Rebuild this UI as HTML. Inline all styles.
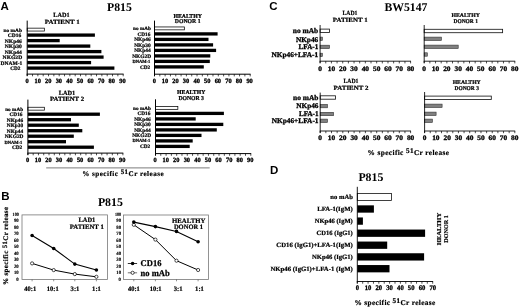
<!DOCTYPE html>
<html><head><meta charset="utf-8"><title>Figure</title>
<style>
html,body{margin:0;padding:0;background:#fff;}
svg{display:block;filter:blur(0.35px);}
text.s{font-family:"Liberation Serif",serif;font-weight:bold;fill:#000;text-rendering:geometricPrecision;}
text.a{font-family:"Liberation Sans",sans-serif;font-weight:bold;fill:#000;}
</style></head><body>
<svg width="520" height="307" viewBox="0 0 520 307">
<rect x="0" y="0" width="520" height="307" fill="#fff"/>
<text class="a" x="0.50" y="10.00" font-size="11.5">A</text>
<text class="s" x="107.00" y="11.40" font-size="11.8" textLength="24.80" lengthAdjust="spacingAndGlyphs">P815</text>
<rect x="27.20" y="28.15" width="17.15" height="2.90" fill="#fff" stroke="#000" stroke-width="0.75"/>
<rect x="27.20" y="33.45" width="67.70" height="3.30" fill="#000"/>
<rect x="27.20" y="38.95" width="32.50" height="3.30" fill="#000"/>
<rect x="27.20" y="44.45" width="63.10" height="3.30" fill="#000"/>
<rect x="27.20" y="49.95" width="74.20" height="3.30" fill="#000"/>
<rect x="27.20" y="55.45" width="76.40" height="3.30" fill="#000"/>
<rect x="27.20" y="60.95" width="63.90" height="3.30" fill="#000"/>
<rect x="27.20" y="66.45" width="87.20" height="3.30" fill="#000"/>
<line x1="27.20" y1="20.60" x2="27.20" y2="76.00" stroke="#000" stroke-width="1.0"/>
<line x1="26.70" y1="74.10" x2="123.60" y2="74.10" stroke="#000" stroke-width="1.0"/>
<line x1="27.20" y1="74.10" x2="27.20" y2="76.30" stroke="#000" stroke-width="0.7"/>
<line x1="32.53" y1="74.10" x2="32.53" y2="76.30" stroke="#000" stroke-width="0.7"/>
<line x1="37.87" y1="74.10" x2="37.87" y2="76.30" stroke="#000" stroke-width="0.7"/>
<line x1="43.20" y1="74.10" x2="43.20" y2="76.30" stroke="#000" stroke-width="0.7"/>
<line x1="48.53" y1="74.10" x2="48.53" y2="76.30" stroke="#000" stroke-width="0.7"/>
<line x1="53.87" y1="74.10" x2="53.87" y2="76.30" stroke="#000" stroke-width="0.7"/>
<line x1="59.20" y1="74.10" x2="59.20" y2="76.30" stroke="#000" stroke-width="0.7"/>
<line x1="64.53" y1="74.10" x2="64.53" y2="76.30" stroke="#000" stroke-width="0.7"/>
<line x1="69.87" y1="74.10" x2="69.87" y2="76.30" stroke="#000" stroke-width="0.7"/>
<line x1="75.20" y1="74.10" x2="75.20" y2="76.30" stroke="#000" stroke-width="0.7"/>
<line x1="80.53" y1="74.10" x2="80.53" y2="76.30" stroke="#000" stroke-width="0.7"/>
<line x1="85.87" y1="74.10" x2="85.87" y2="76.30" stroke="#000" stroke-width="0.7"/>
<line x1="91.20" y1="74.10" x2="91.20" y2="76.30" stroke="#000" stroke-width="0.7"/>
<line x1="96.53" y1="74.10" x2="96.53" y2="76.30" stroke="#000" stroke-width="0.7"/>
<line x1="101.87" y1="74.10" x2="101.87" y2="76.30" stroke="#000" stroke-width="0.7"/>
<line x1="107.20" y1="74.10" x2="107.20" y2="76.30" stroke="#000" stroke-width="0.7"/>
<line x1="112.53" y1="74.10" x2="112.53" y2="76.30" stroke="#000" stroke-width="0.7"/>
<line x1="117.87" y1="74.10" x2="117.87" y2="76.30" stroke="#000" stroke-width="0.7"/>
<line x1="123.20" y1="74.10" x2="123.20" y2="76.30" stroke="#000" stroke-width="0.7"/>
<text class="s" x="25.50" y="82.80" font-size="6.5" textLength="3.20" lengthAdjust="spacingAndGlyphs" stroke="#000" stroke-width="0.3">0</text>
<text class="s" x="34.49" y="82.80" font-size="6.5" textLength="6.40" lengthAdjust="spacingAndGlyphs" stroke="#000" stroke-width="0.3">10</text>
<text class="s" x="45.08" y="82.80" font-size="6.5" textLength="6.40" lengthAdjust="spacingAndGlyphs" stroke="#000" stroke-width="0.3">20</text>
<text class="s" x="55.67" y="82.80" font-size="6.5" textLength="6.40" lengthAdjust="spacingAndGlyphs" stroke="#000" stroke-width="0.3">30</text>
<text class="s" x="66.26" y="82.80" font-size="6.5" textLength="6.40" lengthAdjust="spacingAndGlyphs" stroke="#000" stroke-width="0.3">40</text>
<text class="s" x="76.84" y="82.80" font-size="6.5" textLength="6.40" lengthAdjust="spacingAndGlyphs" stroke="#000" stroke-width="0.3">50</text>
<text class="s" x="87.43" y="82.80" font-size="6.5" textLength="6.40" lengthAdjust="spacingAndGlyphs" stroke="#000" stroke-width="0.3">60</text>
<text class="s" x="98.02" y="82.80" font-size="6.5" textLength="6.40" lengthAdjust="spacingAndGlyphs" stroke="#000" stroke-width="0.3">70</text>
<text class="s" x="108.61" y="82.80" font-size="6.5" textLength="6.40" lengthAdjust="spacingAndGlyphs" stroke="#000" stroke-width="0.3">80</text>
<text class="s" x="119.20" y="82.80" font-size="6.5" textLength="6.40" lengthAdjust="spacingAndGlyphs" stroke="#000" stroke-width="0.3">90</text>
<text class="s" x="3.40" y="31.55" font-size="5.0" textLength="18.60" lengthAdjust="spacingAndGlyphs" stroke="#000" stroke-width="0.22">no mAb</text>
<text class="s" x="7.80" y="37.15" font-size="5.3" textLength="13.40" lengthAdjust="spacingAndGlyphs" stroke="#000" stroke-width="0.22">CD16</text>
<text class="s" x="4.80" y="42.65" font-size="5.3" textLength="17.00" lengthAdjust="spacingAndGlyphs" stroke="#000" stroke-width="0.22">NKp46</text>
<text class="s" x="4.80" y="48.15" font-size="5.3" textLength="17.00" lengthAdjust="spacingAndGlyphs" stroke="#000" stroke-width="0.22">NKp30</text>
<text class="s" x="4.80" y="53.65" font-size="5.3" textLength="17.00" lengthAdjust="spacingAndGlyphs" stroke="#000" stroke-width="0.22">NKp44</text>
<text class="s" x="2.60" y="59.15" font-size="5.3" textLength="19.60" lengthAdjust="spacingAndGlyphs" stroke="#000" stroke-width="0.22">NKG2D</text>
<text class="s" x="0.60" y="64.68" font-size="5.4" textLength="21.80" lengthAdjust="spacingAndGlyphs" stroke="#000" stroke-width="0.22">DNAM-1</text>
<text class="s" x="10.20" y="70.15" font-size="5.3" textLength="10.20" lengthAdjust="spacingAndGlyphs" stroke="#000" stroke-width="0.22">CD2</text>
<text class="s" x="53.30" y="16.70" font-size="6.4" textLength="16.40" lengthAdjust="spacingAndGlyphs" stroke="#000" stroke-width="0.22">LAD1</text>
<text class="s" x="44.70" y="23.90" font-size="6.4" textLength="35.00" lengthAdjust="spacingAndGlyphs" stroke="#000" stroke-width="0.22">PATIENT 1</text>
<rect x="154.50" y="26.95" width="29.85" height="2.90" fill="#fff" stroke="#000" stroke-width="0.75"/>
<rect x="154.50" y="32.25" width="63.10" height="3.30" fill="#000"/>
<rect x="154.50" y="37.75" width="54.00" height="3.30" fill="#000"/>
<rect x="154.50" y="43.25" width="58.60" height="3.30" fill="#000"/>
<rect x="154.50" y="48.75" width="61.60" height="3.30" fill="#000"/>
<rect x="154.50" y="54.25" width="55.80" height="3.30" fill="#000"/>
<rect x="154.50" y="59.75" width="55.30" height="3.30" fill="#000"/>
<rect x="154.50" y="65.25" width="49.30" height="3.30" fill="#000"/>
<line x1="154.50" y1="20.60" x2="154.50" y2="76.10" stroke="#000" stroke-width="1.0"/>
<line x1="154.00" y1="74.20" x2="250.60" y2="74.20" stroke="#000" stroke-width="1.0"/>
<line x1="154.50" y1="74.20" x2="154.50" y2="76.40" stroke="#000" stroke-width="0.7"/>
<line x1="159.82" y1="74.20" x2="159.82" y2="76.40" stroke="#000" stroke-width="0.7"/>
<line x1="165.13" y1="74.20" x2="165.13" y2="76.40" stroke="#000" stroke-width="0.7"/>
<line x1="170.45" y1="74.20" x2="170.45" y2="76.40" stroke="#000" stroke-width="0.7"/>
<line x1="175.77" y1="74.20" x2="175.77" y2="76.40" stroke="#000" stroke-width="0.7"/>
<line x1="181.08" y1="74.20" x2="181.08" y2="76.40" stroke="#000" stroke-width="0.7"/>
<line x1="186.40" y1="74.20" x2="186.40" y2="76.40" stroke="#000" stroke-width="0.7"/>
<line x1="191.72" y1="74.20" x2="191.72" y2="76.40" stroke="#000" stroke-width="0.7"/>
<line x1="197.03" y1="74.20" x2="197.03" y2="76.40" stroke="#000" stroke-width="0.7"/>
<line x1="202.35" y1="74.20" x2="202.35" y2="76.40" stroke="#000" stroke-width="0.7"/>
<line x1="207.67" y1="74.20" x2="207.67" y2="76.40" stroke="#000" stroke-width="0.7"/>
<line x1="212.98" y1="74.20" x2="212.98" y2="76.40" stroke="#000" stroke-width="0.7"/>
<line x1="218.30" y1="74.20" x2="218.30" y2="76.40" stroke="#000" stroke-width="0.7"/>
<line x1="223.62" y1="74.20" x2="223.62" y2="76.40" stroke="#000" stroke-width="0.7"/>
<line x1="228.93" y1="74.20" x2="228.93" y2="76.40" stroke="#000" stroke-width="0.7"/>
<line x1="234.25" y1="74.20" x2="234.25" y2="76.40" stroke="#000" stroke-width="0.7"/>
<line x1="239.57" y1="74.20" x2="239.57" y2="76.40" stroke="#000" stroke-width="0.7"/>
<line x1="244.88" y1="74.20" x2="244.88" y2="76.40" stroke="#000" stroke-width="0.7"/>
<line x1="250.20" y1="74.20" x2="250.20" y2="76.40" stroke="#000" stroke-width="0.7"/>
<text class="s" x="152.70" y="82.80" font-size="6.5" textLength="3.20" lengthAdjust="spacingAndGlyphs" stroke="#000" stroke-width="0.3">0</text>
<text class="s" x="161.69" y="82.80" font-size="6.5" textLength="6.40" lengthAdjust="spacingAndGlyphs" stroke="#000" stroke-width="0.3">10</text>
<text class="s" x="172.28" y="82.80" font-size="6.5" textLength="6.40" lengthAdjust="spacingAndGlyphs" stroke="#000" stroke-width="0.3">20</text>
<text class="s" x="182.87" y="82.80" font-size="6.5" textLength="6.40" lengthAdjust="spacingAndGlyphs" stroke="#000" stroke-width="0.3">30</text>
<text class="s" x="193.46" y="82.80" font-size="6.5" textLength="6.40" lengthAdjust="spacingAndGlyphs" stroke="#000" stroke-width="0.3">40</text>
<text class="s" x="204.04" y="82.80" font-size="6.5" textLength="6.40" lengthAdjust="spacingAndGlyphs" stroke="#000" stroke-width="0.3">50</text>
<text class="s" x="214.63" y="82.80" font-size="6.5" textLength="6.40" lengthAdjust="spacingAndGlyphs" stroke="#000" stroke-width="0.3">60</text>
<text class="s" x="225.22" y="82.80" font-size="6.5" textLength="6.40" lengthAdjust="spacingAndGlyphs" stroke="#000" stroke-width="0.3">70</text>
<text class="s" x="235.81" y="82.80" font-size="6.5" textLength="6.40" lengthAdjust="spacingAndGlyphs" stroke="#000" stroke-width="0.3">80</text>
<text class="s" x="246.40" y="82.80" font-size="6.5" textLength="6.40" lengthAdjust="spacingAndGlyphs" stroke="#000" stroke-width="0.3">90</text>
<text class="s" x="133.00" y="30.05" font-size="5.0" textLength="18.00" lengthAdjust="spacingAndGlyphs" stroke="#000" stroke-width="0.22">no mAb</text>
<text class="s" x="137.40" y="35.65" font-size="5.3" textLength="13.00" lengthAdjust="spacingAndGlyphs" stroke="#000" stroke-width="0.22">CD16</text>
<text class="s" x="134.20" y="41.15" font-size="5.3" textLength="16.60" lengthAdjust="spacingAndGlyphs" stroke="#000" stroke-width="0.22">NKp46</text>
<text class="s" x="134.20" y="46.65" font-size="5.3" textLength="16.60" lengthAdjust="spacingAndGlyphs" stroke="#000" stroke-width="0.22">NKp30</text>
<text class="s" x="134.20" y="52.15" font-size="5.3" textLength="16.60" lengthAdjust="spacingAndGlyphs" stroke="#000" stroke-width="0.22">NKp44</text>
<text class="s" x="132.20" y="57.65" font-size="5.3" textLength="19.00" lengthAdjust="spacingAndGlyphs" stroke="#000" stroke-width="0.22">NKG2D</text>
<text class="s" x="132.50" y="62.92" font-size="4.6" textLength="17.90" lengthAdjust="spacingAndGlyphs" stroke="#000" stroke-width="0.22">DNAM-1</text>
<text class="s" x="140.00" y="68.65" font-size="5.3" textLength="10.20" lengthAdjust="spacingAndGlyphs" stroke="#000" stroke-width="0.22">CD2</text>
<text class="s" x="173.40" y="17.60" font-size="6.0" textLength="28.60" lengthAdjust="spacingAndGlyphs" stroke="#000" stroke-width="0.22">HEALTHY</text>
<text class="s" x="174.80" y="23.40" font-size="6.0" textLength="25.80" lengthAdjust="spacingAndGlyphs" stroke="#000" stroke-width="0.22">DONOR 1</text>
<rect x="27.90" y="107.25" width="16.45" height="2.90" fill="#fff" stroke="#000" stroke-width="0.75"/>
<rect x="27.90" y="112.55" width="72.00" height="3.30" fill="#000"/>
<rect x="27.90" y="118.05" width="43.10" height="3.30" fill="#000"/>
<rect x="27.90" y="123.55" width="50.90" height="3.30" fill="#000"/>
<rect x="27.90" y="129.05" width="54.40" height="3.30" fill="#000"/>
<rect x="27.90" y="134.55" width="45.90" height="3.30" fill="#000"/>
<rect x="27.90" y="140.05" width="38.10" height="3.30" fill="#000"/>
<rect x="27.90" y="145.55" width="66.00" height="3.30" fill="#000"/>
<line x1="27.90" y1="99.60" x2="27.90" y2="155.00" stroke="#000" stroke-width="1.0"/>
<line x1="27.40" y1="153.10" x2="123.30" y2="153.10" stroke="#000" stroke-width="1.0"/>
<line x1="27.90" y1="153.10" x2="27.90" y2="155.30" stroke="#000" stroke-width="0.7"/>
<line x1="33.18" y1="153.10" x2="33.18" y2="155.30" stroke="#000" stroke-width="0.7"/>
<line x1="38.46" y1="153.10" x2="38.46" y2="155.30" stroke="#000" stroke-width="0.7"/>
<line x1="43.73" y1="153.10" x2="43.73" y2="155.30" stroke="#000" stroke-width="0.7"/>
<line x1="49.01" y1="153.10" x2="49.01" y2="155.30" stroke="#000" stroke-width="0.7"/>
<line x1="54.29" y1="153.10" x2="54.29" y2="155.30" stroke="#000" stroke-width="0.7"/>
<line x1="59.57" y1="153.10" x2="59.57" y2="155.30" stroke="#000" stroke-width="0.7"/>
<line x1="64.84" y1="153.10" x2="64.84" y2="155.30" stroke="#000" stroke-width="0.7"/>
<line x1="70.12" y1="153.10" x2="70.12" y2="155.30" stroke="#000" stroke-width="0.7"/>
<line x1="75.40" y1="153.10" x2="75.40" y2="155.30" stroke="#000" stroke-width="0.7"/>
<line x1="80.68" y1="153.10" x2="80.68" y2="155.30" stroke="#000" stroke-width="0.7"/>
<line x1="85.96" y1="153.10" x2="85.96" y2="155.30" stroke="#000" stroke-width="0.7"/>
<line x1="91.23" y1="153.10" x2="91.23" y2="155.30" stroke="#000" stroke-width="0.7"/>
<line x1="96.51" y1="153.10" x2="96.51" y2="155.30" stroke="#000" stroke-width="0.7"/>
<line x1="101.79" y1="153.10" x2="101.79" y2="155.30" stroke="#000" stroke-width="0.7"/>
<line x1="107.07" y1="153.10" x2="107.07" y2="155.30" stroke="#000" stroke-width="0.7"/>
<line x1="112.34" y1="153.10" x2="112.34" y2="155.30" stroke="#000" stroke-width="0.7"/>
<line x1="117.62" y1="153.10" x2="117.62" y2="155.30" stroke="#000" stroke-width="0.7"/>
<line x1="122.90" y1="153.10" x2="122.90" y2="155.30" stroke="#000" stroke-width="0.7"/>
<text class="s" x="25.90" y="161.50" font-size="6.5" textLength="3.20" lengthAdjust="spacingAndGlyphs" stroke="#000" stroke-width="0.3">0</text>
<text class="s" x="34.82" y="161.50" font-size="6.5" textLength="6.40" lengthAdjust="spacingAndGlyphs" stroke="#000" stroke-width="0.3">10</text>
<text class="s" x="45.34" y="161.50" font-size="6.5" textLength="6.40" lengthAdjust="spacingAndGlyphs" stroke="#000" stroke-width="0.3">20</text>
<text class="s" x="55.87" y="161.50" font-size="6.5" textLength="6.40" lengthAdjust="spacingAndGlyphs" stroke="#000" stroke-width="0.3">30</text>
<text class="s" x="66.39" y="161.50" font-size="6.5" textLength="6.40" lengthAdjust="spacingAndGlyphs" stroke="#000" stroke-width="0.3">40</text>
<text class="s" x="76.91" y="161.50" font-size="6.5" textLength="6.40" lengthAdjust="spacingAndGlyphs" stroke="#000" stroke-width="0.3">50</text>
<text class="s" x="87.43" y="161.50" font-size="6.5" textLength="6.40" lengthAdjust="spacingAndGlyphs" stroke="#000" stroke-width="0.3">60</text>
<text class="s" x="97.96" y="161.50" font-size="6.5" textLength="6.40" lengthAdjust="spacingAndGlyphs" stroke="#000" stroke-width="0.3">70</text>
<text class="s" x="108.48" y="161.50" font-size="6.5" textLength="6.40" lengthAdjust="spacingAndGlyphs" stroke="#000" stroke-width="0.3">80</text>
<text class="s" x="119.00" y="161.50" font-size="6.5" textLength="6.40" lengthAdjust="spacingAndGlyphs" stroke="#000" stroke-width="0.3">90</text>
<text class="s" x="5.20" y="110.65" font-size="5.0" textLength="17.90" lengthAdjust="spacingAndGlyphs" stroke="#000" stroke-width="0.22">no mAb</text>
<text class="s" x="9.40" y="116.25" font-size="5.3" textLength="13.10" lengthAdjust="spacingAndGlyphs" stroke="#000" stroke-width="0.22">CD16</text>
<text class="s" x="6.80" y="121.75" font-size="5.3" textLength="16.30" lengthAdjust="spacingAndGlyphs" stroke="#000" stroke-width="0.22">NKp46</text>
<text class="s" x="6.80" y="127.25" font-size="5.3" textLength="16.30" lengthAdjust="spacingAndGlyphs" stroke="#000" stroke-width="0.22">NKp30</text>
<text class="s" x="6.80" y="132.75" font-size="5.3" textLength="16.30" lengthAdjust="spacingAndGlyphs" stroke="#000" stroke-width="0.22">NKp44</text>
<text class="s" x="4.70" y="138.25" font-size="5.3" textLength="18.80" lengthAdjust="spacingAndGlyphs" stroke="#000" stroke-width="0.22">NKG2D</text>
<text class="s" x="4.40" y="143.52" font-size="4.6" textLength="17.90" lengthAdjust="spacingAndGlyphs" stroke="#000" stroke-width="0.22">DNAM-1</text>
<text class="s" x="11.90" y="149.25" font-size="5.3" textLength="10.40" lengthAdjust="spacingAndGlyphs" stroke="#000" stroke-width="0.22">CD2</text>
<text class="s" x="58.70" y="94.60" font-size="6.4" textLength="16.60" lengthAdjust="spacingAndGlyphs" stroke="#000" stroke-width="0.22">LAD1</text>
<text class="s" x="49.90" y="101.10" font-size="6.4" textLength="34.20" lengthAdjust="spacingAndGlyphs" stroke="#000" stroke-width="0.22">PATIENT 2</text>
<rect x="155.50" y="106.45" width="22.35" height="2.90" fill="#fff" stroke="#000" stroke-width="0.75"/>
<rect x="155.50" y="111.75" width="68.40" height="3.30" fill="#000"/>
<rect x="155.50" y="117.25" width="40.20" height="3.30" fill="#000"/>
<rect x="155.50" y="122.75" width="67.80" height="3.30" fill="#000"/>
<rect x="155.50" y="128.25" width="61.30" height="3.30" fill="#000"/>
<rect x="155.50" y="133.75" width="46.00" height="3.30" fill="#000"/>
<rect x="155.50" y="139.25" width="37.20" height="3.30" fill="#000"/>
<rect x="155.50" y="144.75" width="34.20" height="3.30" fill="#000"/>
<line x1="155.50" y1="99.30" x2="155.50" y2="155.50" stroke="#000" stroke-width="1.0"/>
<line x1="155.00" y1="153.60" x2="251.20" y2="153.60" stroke="#000" stroke-width="1.0"/>
<line x1="155.50" y1="153.60" x2="155.50" y2="155.80" stroke="#000" stroke-width="0.7"/>
<line x1="160.79" y1="153.60" x2="160.79" y2="155.80" stroke="#000" stroke-width="0.7"/>
<line x1="166.09" y1="153.60" x2="166.09" y2="155.80" stroke="#000" stroke-width="0.7"/>
<line x1="171.38" y1="153.60" x2="171.38" y2="155.80" stroke="#000" stroke-width="0.7"/>
<line x1="176.68" y1="153.60" x2="176.68" y2="155.80" stroke="#000" stroke-width="0.7"/>
<line x1="181.97" y1="153.60" x2="181.97" y2="155.80" stroke="#000" stroke-width="0.7"/>
<line x1="187.27" y1="153.60" x2="187.27" y2="155.80" stroke="#000" stroke-width="0.7"/>
<line x1="192.56" y1="153.60" x2="192.56" y2="155.80" stroke="#000" stroke-width="0.7"/>
<line x1="197.86" y1="153.60" x2="197.86" y2="155.80" stroke="#000" stroke-width="0.7"/>
<line x1="203.15" y1="153.60" x2="203.15" y2="155.80" stroke="#000" stroke-width="0.7"/>
<line x1="208.44" y1="153.60" x2="208.44" y2="155.80" stroke="#000" stroke-width="0.7"/>
<line x1="213.74" y1="153.60" x2="213.74" y2="155.80" stroke="#000" stroke-width="0.7"/>
<line x1="219.03" y1="153.60" x2="219.03" y2="155.80" stroke="#000" stroke-width="0.7"/>
<line x1="224.33" y1="153.60" x2="224.33" y2="155.80" stroke="#000" stroke-width="0.7"/>
<line x1="229.62" y1="153.60" x2="229.62" y2="155.80" stroke="#000" stroke-width="0.7"/>
<line x1="234.92" y1="153.60" x2="234.92" y2="155.80" stroke="#000" stroke-width="0.7"/>
<line x1="240.21" y1="153.60" x2="240.21" y2="155.80" stroke="#000" stroke-width="0.7"/>
<line x1="245.51" y1="153.60" x2="245.51" y2="155.80" stroke="#000" stroke-width="0.7"/>
<line x1="250.80" y1="153.60" x2="250.80" y2="155.80" stroke="#000" stroke-width="0.7"/>
<text class="s" x="153.50" y="162.40" font-size="6.5" textLength="3.20" lengthAdjust="spacingAndGlyphs" stroke="#000" stroke-width="0.3">0</text>
<text class="s" x="162.48" y="162.40" font-size="6.5" textLength="6.40" lengthAdjust="spacingAndGlyphs" stroke="#000" stroke-width="0.3">10</text>
<text class="s" x="173.06" y="162.40" font-size="6.5" textLength="6.40" lengthAdjust="spacingAndGlyphs" stroke="#000" stroke-width="0.3">20</text>
<text class="s" x="183.63" y="162.40" font-size="6.5" textLength="6.40" lengthAdjust="spacingAndGlyphs" stroke="#000" stroke-width="0.3">30</text>
<text class="s" x="194.21" y="162.40" font-size="6.5" textLength="6.40" lengthAdjust="spacingAndGlyphs" stroke="#000" stroke-width="0.3">40</text>
<text class="s" x="204.79" y="162.40" font-size="6.5" textLength="6.40" lengthAdjust="spacingAndGlyphs" stroke="#000" stroke-width="0.3">50</text>
<text class="s" x="215.37" y="162.40" font-size="6.5" textLength="6.40" lengthAdjust="spacingAndGlyphs" stroke="#000" stroke-width="0.3">60</text>
<text class="s" x="225.94" y="162.40" font-size="6.5" textLength="6.40" lengthAdjust="spacingAndGlyphs" stroke="#000" stroke-width="0.3">70</text>
<text class="s" x="236.52" y="162.40" font-size="6.5" textLength="6.40" lengthAdjust="spacingAndGlyphs" stroke="#000" stroke-width="0.3">80</text>
<text class="s" x="247.10" y="162.40" font-size="6.5" textLength="6.40" lengthAdjust="spacingAndGlyphs" stroke="#000" stroke-width="0.3">90</text>
<text class="s" x="133.00" y="109.55" font-size="5.0" textLength="18.00" lengthAdjust="spacingAndGlyphs" stroke="#000" stroke-width="0.22">no mAb</text>
<text class="s" x="137.40" y="115.15" font-size="5.3" textLength="13.00" lengthAdjust="spacingAndGlyphs" stroke="#000" stroke-width="0.22">CD16</text>
<text class="s" x="134.20" y="120.65" font-size="5.3" textLength="16.60" lengthAdjust="spacingAndGlyphs" stroke="#000" stroke-width="0.22">NKp46</text>
<text class="s" x="134.20" y="126.15" font-size="5.3" textLength="16.60" lengthAdjust="spacingAndGlyphs" stroke="#000" stroke-width="0.22">NKp30</text>
<text class="s" x="134.20" y="131.65" font-size="5.3" textLength="16.60" lengthAdjust="spacingAndGlyphs" stroke="#000" stroke-width="0.22">NKp44</text>
<text class="s" x="132.20" y="137.15" font-size="5.3" textLength="19.00" lengthAdjust="spacingAndGlyphs" stroke="#000" stroke-width="0.22">NKG2D</text>
<text class="s" x="132.50" y="142.42" font-size="4.6" textLength="17.90" lengthAdjust="spacingAndGlyphs" stroke="#000" stroke-width="0.22">DNAM-1</text>
<text class="s" x="140.00" y="148.15" font-size="5.3" textLength="10.20" lengthAdjust="spacingAndGlyphs" stroke="#000" stroke-width="0.22">CD2</text>
<text class="s" x="177.10" y="94.30" font-size="6.0" textLength="28.20" lengthAdjust="spacingAndGlyphs" stroke="#000" stroke-width="0.22">HEALTHY</text>
<text class="s" x="178.40" y="100.20" font-size="6.0" textLength="25.60" lengthAdjust="spacingAndGlyphs" stroke="#000" stroke-width="0.22">DONOR 3</text>
<line x1="46.20" y1="167.90" x2="209.70" y2="167.90" stroke="#222" stroke-width="0.6"/>
<text class="s" x="82.20" y="175.90" font-size="7.1" textLength="81.4" lengthAdjust="spacing" stroke="#000" stroke-width="0.2">% specific <tspan dy="-1.63" font-size="6.96">51</tspan><tspan dy="1.63">Cr release</tspan></text>
<text class="a" x="1.20" y="199.90" font-size="11.5">B</text>
<text class="s" x="97.90" y="205.80" font-size="11.8" textLength="25.00" lengthAdjust="spacingAndGlyphs">P815</text>
<rect x="22.00" y="214.90" width="85.40" height="64.60" fill="none" stroke="#777" stroke-width="0.8"/>
<text class="s" x="16.30" y="280.50" font-size="5.0" textLength="2.40" lengthAdjust="spacingAndGlyphs" stroke="#000" stroke-width="0.15">0</text>
<text class="s" x="14.00" y="274.04" font-size="5.0" textLength="4.70" lengthAdjust="spacingAndGlyphs" stroke="#000" stroke-width="0.15">10</text>
<text class="s" x="14.00" y="267.58" font-size="5.0" textLength="4.70" lengthAdjust="spacingAndGlyphs" stroke="#000" stroke-width="0.15">20</text>
<text class="s" x="14.00" y="261.12" font-size="5.0" textLength="4.70" lengthAdjust="spacingAndGlyphs" stroke="#000" stroke-width="0.15">30</text>
<text class="s" x="14.00" y="254.66" font-size="5.0" textLength="4.70" lengthAdjust="spacingAndGlyphs" stroke="#000" stroke-width="0.15">40</text>
<text class="s" x="14.00" y="248.20" font-size="5.0" textLength="4.70" lengthAdjust="spacingAndGlyphs" stroke="#000" stroke-width="0.15">50</text>
<text class="s" x="14.00" y="241.74" font-size="5.0" textLength="4.70" lengthAdjust="spacingAndGlyphs" stroke="#000" stroke-width="0.15">60</text>
<text class="s" x="14.00" y="235.28" font-size="5.0" textLength="4.70" lengthAdjust="spacingAndGlyphs" stroke="#000" stroke-width="0.15">70</text>
<text class="s" x="14.00" y="228.82" font-size="5.0" textLength="4.70" lengthAdjust="spacingAndGlyphs" stroke="#000" stroke-width="0.15">80</text>
<text class="s" x="14.00" y="222.36" font-size="5.0" textLength="4.70" lengthAdjust="spacingAndGlyphs" stroke="#000" stroke-width="0.15">90</text>
<text class="s" x="12.60" y="215.90" font-size="5.0" textLength="6.10" lengthAdjust="spacingAndGlyphs" stroke="#000" stroke-width="0.15">100</text>
<line x1="32.10" y1="279.50" x2="32.10" y2="281.30" stroke="#444" stroke-width="0.6"/>
<line x1="53.70" y1="279.50" x2="53.70" y2="281.30" stroke="#444" stroke-width="0.6"/>
<line x1="74.80" y1="279.50" x2="74.80" y2="281.30" stroke="#444" stroke-width="0.6"/>
<line x1="96.40" y1="279.50" x2="96.40" y2="281.30" stroke="#444" stroke-width="0.6"/>
<polyline points="32.10,263.40 53.70,270.10 74.80,274.10 96.40,276.80" fill="none" stroke="#000" stroke-width="1.0"/>
<polyline points="32.10,235.50 53.70,248.50 74.80,264.10 96.40,270.00" fill="none" stroke="#000" stroke-width="1.1"/>
<circle cx="32.10" cy="263.40" r="1.6" fill="#fff" stroke="#000" stroke-width="0.7"/>
<circle cx="53.70" cy="270.10" r="1.6" fill="#fff" stroke="#000" stroke-width="0.7"/>
<circle cx="74.80" cy="274.10" r="1.6" fill="#fff" stroke="#000" stroke-width="0.7"/>
<circle cx="96.40" cy="276.80" r="1.6" fill="#fff" stroke="#000" stroke-width="0.7"/>
<circle cx="32.10" cy="235.50" r="1.8" fill="#000"/>
<circle cx="53.70" cy="248.50" r="1.8" fill="#000"/>
<circle cx="74.80" cy="264.10" r="1.8" fill="#000"/>
<circle cx="96.40" cy="270.00" r="1.8" fill="#000"/>
<text class="s" x="24.25" y="290.70" font-size="6.8" textLength="11.90" lengthAdjust="spacingAndGlyphs" stroke="#000" stroke-width="0.22">40:1</text>
<text class="s" x="46.85" y="290.70" font-size="6.8" textLength="11.90" lengthAdjust="spacingAndGlyphs" stroke="#000" stroke-width="0.22">10:1</text>
<text class="s" x="70.60" y="290.70" font-size="6.8" textLength="8.80" lengthAdjust="spacingAndGlyphs" stroke="#000" stroke-width="0.22">3:1</text>
<text class="s" x="92.10" y="290.70" font-size="6.8" textLength="8.80" lengthAdjust="spacingAndGlyphs" stroke="#000" stroke-width="0.22">1:1</text>
<text class="s" x="78.45" y="221.70" font-size="6.7" textLength="16.90" lengthAdjust="spacingAndGlyphs" stroke="#000" stroke-width="0.22">LAD1</text>
<text class="s" x="69.70" y="228.70" font-size="6.7" textLength="34.20" lengthAdjust="spacingAndGlyphs" stroke="#000" stroke-width="0.22">PATIENT 1</text>
<rect x="123.40" y="215.00" width="85.00" height="64.50" fill="none" stroke="#777" stroke-width="0.8"/>
<text class="s" x="118.60" y="280.50" font-size="5.0" textLength="2.40" lengthAdjust="spacingAndGlyphs" stroke="#000" stroke-width="0.15">0</text>
<text class="s" x="116.30" y="274.05" font-size="5.0" textLength="4.70" lengthAdjust="spacingAndGlyphs" stroke="#000" stroke-width="0.15">10</text>
<text class="s" x="116.30" y="267.60" font-size="5.0" textLength="4.70" lengthAdjust="spacingAndGlyphs" stroke="#000" stroke-width="0.15">20</text>
<text class="s" x="116.30" y="261.15" font-size="5.0" textLength="4.70" lengthAdjust="spacingAndGlyphs" stroke="#000" stroke-width="0.15">30</text>
<text class="s" x="116.30" y="254.70" font-size="5.0" textLength="4.70" lengthAdjust="spacingAndGlyphs" stroke="#000" stroke-width="0.15">40</text>
<text class="s" x="116.30" y="248.25" font-size="5.0" textLength="4.70" lengthAdjust="spacingAndGlyphs" stroke="#000" stroke-width="0.15">50</text>
<text class="s" x="116.30" y="241.80" font-size="5.0" textLength="4.70" lengthAdjust="spacingAndGlyphs" stroke="#000" stroke-width="0.15">60</text>
<text class="s" x="116.30" y="235.35" font-size="5.0" textLength="4.70" lengthAdjust="spacingAndGlyphs" stroke="#000" stroke-width="0.15">70</text>
<text class="s" x="116.30" y="228.90" font-size="5.0" textLength="4.70" lengthAdjust="spacingAndGlyphs" stroke="#000" stroke-width="0.15">80</text>
<text class="s" x="116.30" y="222.45" font-size="5.0" textLength="4.70" lengthAdjust="spacingAndGlyphs" stroke="#000" stroke-width="0.15">90</text>
<text class="s" x="114.90" y="216.00" font-size="5.0" textLength="6.10" lengthAdjust="spacingAndGlyphs" stroke="#000" stroke-width="0.15">100</text>
<line x1="133.80" y1="279.50" x2="133.80" y2="281.30" stroke="#444" stroke-width="0.6"/>
<line x1="155.40" y1="279.50" x2="155.40" y2="281.30" stroke="#444" stroke-width="0.6"/>
<line x1="176.50" y1="279.50" x2="176.50" y2="281.30" stroke="#444" stroke-width="0.6"/>
<line x1="198.10" y1="279.50" x2="198.10" y2="281.30" stroke="#444" stroke-width="0.6"/>
<polyline points="133.80,224.80 155.40,239.60 176.50,260.70 198.10,270.00" fill="none" stroke="#000" stroke-width="1.0"/>
<polyline points="133.80,222.10 155.40,226.60 176.50,231.40 198.10,241.70" fill="none" stroke="#000" stroke-width="1.1"/>
<circle cx="133.80" cy="224.80" r="1.6" fill="#fff" stroke="#000" stroke-width="0.7"/>
<circle cx="155.40" cy="239.60" r="1.6" fill="#fff" stroke="#000" stroke-width="0.7"/>
<circle cx="176.50" cy="260.70" r="1.6" fill="#fff" stroke="#000" stroke-width="0.7"/>
<circle cx="198.10" cy="270.00" r="1.6" fill="#fff" stroke="#000" stroke-width="0.7"/>
<circle cx="133.80" cy="222.10" r="1.8" fill="#000"/>
<circle cx="155.40" cy="226.60" r="1.8" fill="#000"/>
<circle cx="176.50" cy="231.40" r="1.8" fill="#000"/>
<circle cx="198.10" cy="241.70" r="1.8" fill="#000"/>
<text class="s" x="127.95" y="290.90" font-size="6.8" textLength="11.90" lengthAdjust="spacingAndGlyphs" stroke="#000" stroke-width="0.22">40:1</text>
<text class="s" x="149.65" y="290.90" font-size="6.8" textLength="11.90" lengthAdjust="spacingAndGlyphs" stroke="#000" stroke-width="0.22">10:1</text>
<text class="s" x="173.70" y="290.90" font-size="6.8" textLength="8.80" lengthAdjust="spacingAndGlyphs" stroke="#000" stroke-width="0.22">3:1</text>
<text class="s" x="195.10" y="290.90" font-size="6.8" textLength="8.80" lengthAdjust="spacingAndGlyphs" stroke="#000" stroke-width="0.22">1:1</text>
<text class="s" x="172.00" y="222.60" font-size="6.7" textLength="33.40" lengthAdjust="spacingAndGlyphs" stroke="#000" stroke-width="0.22">HEALTHY</text>
<text class="s" x="173.90" y="229.20" font-size="6.7" textLength="29.20" lengthAdjust="spacingAndGlyphs" stroke="#000" stroke-width="0.22">DONOR 1</text>
<line x1="127.80" y1="263.50" x2="137.10" y2="263.50" stroke="#000" stroke-width="0.8"/>
<circle cx="132.60" cy="263.50" r="1.8" fill="#000"/>
<text class="s" x="140.60" y="266.40" font-size="8.8" textLength="20.80" lengthAdjust="spacingAndGlyphs" stroke="#000" stroke-width="0.25">CD16</text>
<line x1="127.80" y1="272.80" x2="137.10" y2="272.80" stroke="#333" stroke-width="0.7"/>
<circle cx="132.60" cy="272.80" r="1.6" fill="#fff" stroke="#000" stroke-width="0.7"/>
<text class="s" x="140.60" y="275.50" font-size="8.8" textLength="29.20" lengthAdjust="spacingAndGlyphs" stroke="#000" stroke-width="0.25">no mAb</text>
<text class="s" font-size="7" transform="translate(8.4,285) rotate(-90)" textLength="78" lengthAdjust="spacing" stroke="#000" stroke-width="0.2">% specific <tspan dy="-1.6" font-size="6.8">51</tspan><tspan dy="1.6">Cr release</tspan></text>
<text class="a" x="269.30" y="9.60" font-size="11.5">C</text>
<text class="s" x="384.40" y="10.90" font-size="11.8" textLength="43.00" lengthAdjust="spacingAndGlyphs">BW5147</text>
<rect x="320.10" y="29.10" width="9.40" height="3.40" fill="#fff" stroke="#1a1a1a" stroke-width="0.85"/>
<rect x="320.10" y="37.10" width="2.30" height="3.40" fill="#808080" stroke="#333" stroke-width="0.6"/>
<rect x="320.10" y="45.20" width="9.40" height="3.40" fill="#808080" stroke="#333" stroke-width="0.6"/>
<rect x="320.10" y="53.20" width="2.30" height="3.40" fill="#808080" stroke="#333" stroke-width="0.6"/>
<line x1="320.10" y1="25.00" x2="320.10" y2="63.10" stroke="#000" stroke-width="0.85"/>
<line x1="319.68" y1="61.20" x2="411.00" y2="61.20" stroke="#000" stroke-width="0.85"/>
<line x1="320.10" y1="61.20" x2="320.10" y2="63.40" stroke="#000" stroke-width="0.7"/>
<line x1="325.76" y1="61.20" x2="325.76" y2="63.40" stroke="#000" stroke-width="0.7"/>
<line x1="331.41" y1="61.20" x2="331.41" y2="63.40" stroke="#000" stroke-width="0.7"/>
<line x1="337.07" y1="61.20" x2="337.07" y2="63.40" stroke="#000" stroke-width="0.7"/>
<line x1="342.73" y1="61.20" x2="342.73" y2="63.40" stroke="#000" stroke-width="0.7"/>
<line x1="348.38" y1="61.20" x2="348.38" y2="63.40" stroke="#000" stroke-width="0.7"/>
<line x1="354.04" y1="61.20" x2="354.04" y2="63.40" stroke="#000" stroke-width="0.7"/>
<line x1="359.69" y1="61.20" x2="359.69" y2="63.40" stroke="#000" stroke-width="0.7"/>
<line x1="365.35" y1="61.20" x2="365.35" y2="63.40" stroke="#000" stroke-width="0.7"/>
<line x1="371.01" y1="61.20" x2="371.01" y2="63.40" stroke="#000" stroke-width="0.7"/>
<line x1="376.66" y1="61.20" x2="376.66" y2="63.40" stroke="#000" stroke-width="0.7"/>
<line x1="382.32" y1="61.20" x2="382.32" y2="63.40" stroke="#000" stroke-width="0.7"/>
<line x1="387.98" y1="61.20" x2="387.98" y2="63.40" stroke="#000" stroke-width="0.7"/>
<line x1="393.63" y1="61.20" x2="393.63" y2="63.40" stroke="#000" stroke-width="0.7"/>
<line x1="399.29" y1="61.20" x2="399.29" y2="63.40" stroke="#000" stroke-width="0.7"/>
<line x1="404.94" y1="61.20" x2="404.94" y2="63.40" stroke="#000" stroke-width="0.7"/>
<line x1="410.60" y1="61.20" x2="410.60" y2="63.40" stroke="#000" stroke-width="0.7"/>
<text class="s" x="318.25" y="70.50" font-size="6.8" textLength="3.70" lengthAdjust="spacingAndGlyphs" stroke="#000" stroke-width="0.3">0</text>
<text class="s" x="327.71" y="70.50" font-size="6.8" textLength="7.40" lengthAdjust="spacingAndGlyphs" stroke="#000" stroke-width="0.3">10</text>
<text class="s" x="339.03" y="70.50" font-size="6.8" textLength="7.40" lengthAdjust="spacingAndGlyphs" stroke="#000" stroke-width="0.3">20</text>
<text class="s" x="350.34" y="70.50" font-size="6.8" textLength="7.40" lengthAdjust="spacingAndGlyphs" stroke="#000" stroke-width="0.3">30</text>
<text class="s" x="361.65" y="70.50" font-size="6.8" textLength="7.40" lengthAdjust="spacingAndGlyphs" stroke="#000" stroke-width="0.3">40</text>
<text class="s" x="372.96" y="70.50" font-size="6.8" textLength="7.40" lengthAdjust="spacingAndGlyphs" stroke="#000" stroke-width="0.3">50</text>
<text class="s" x="384.28" y="70.50" font-size="6.8" textLength="7.40" lengthAdjust="spacingAndGlyphs" stroke="#000" stroke-width="0.3">60</text>
<text class="s" x="395.59" y="70.50" font-size="6.8" textLength="7.40" lengthAdjust="spacingAndGlyphs" stroke="#000" stroke-width="0.3">70</text>
<text class="s" x="406.90" y="70.50" font-size="6.8" textLength="7.40" lengthAdjust="spacingAndGlyphs" stroke="#000" stroke-width="0.3">80</text>
<text class="s" x="292.80" y="33.10" font-size="7.2" textLength="25.40" lengthAdjust="spacingAndGlyphs" stroke="#000" stroke-width="0.3">no mAb</text>
<text class="s" x="295.90" y="41.50" font-size="7.2" textLength="22.30" lengthAdjust="spacingAndGlyphs" stroke="#000" stroke-width="0.3">NKp46</text>
<text class="s" x="298.60" y="49.20" font-size="7.2" textLength="19.60" lengthAdjust="spacingAndGlyphs" stroke="#000" stroke-width="0.3">LFA-1</text>
<text class="s" x="271.40" y="56.90" font-size="7.2" textLength="46.80" lengthAdjust="spacingAndGlyphs" stroke="#000" stroke-width="0.3">NKp46+LFA-1</text>
<text class="s" x="342.50" y="15.20" font-size="6.4" textLength="15.00" lengthAdjust="spacingAndGlyphs" stroke="#000" stroke-width="0.22">LAD1</text>
<text class="s" x="332.80" y="22.30" font-size="6.4" textLength="34.80" lengthAdjust="spacingAndGlyphs" stroke="#000" stroke-width="0.22">PATIENT 1</text>
<rect x="424.20" y="29.30" width="78.40" height="3.40" fill="#fff" stroke="#1a1a1a" stroke-width="0.85"/>
<rect x="424.20" y="37.10" width="17.20" height="3.40" fill="#808080" stroke="#333" stroke-width="0.6"/>
<rect x="424.20" y="45.10" width="34.00" height="3.40" fill="#808080" stroke="#333" stroke-width="0.6"/>
<rect x="424.20" y="52.80" width="3.10" height="3.40" fill="#808080" stroke="#333" stroke-width="0.6"/>
<line x1="424.20" y1="25.00" x2="424.20" y2="63.10" stroke="#000" stroke-width="0.85"/>
<line x1="423.77" y1="61.20" x2="515.20" y2="61.20" stroke="#000" stroke-width="0.85"/>
<line x1="424.20" y1="61.20" x2="424.20" y2="63.40" stroke="#000" stroke-width="0.7"/>
<line x1="429.86" y1="61.20" x2="429.86" y2="63.40" stroke="#000" stroke-width="0.7"/>
<line x1="435.52" y1="61.20" x2="435.52" y2="63.40" stroke="#000" stroke-width="0.7"/>
<line x1="441.19" y1="61.20" x2="441.19" y2="63.40" stroke="#000" stroke-width="0.7"/>
<line x1="446.85" y1="61.20" x2="446.85" y2="63.40" stroke="#000" stroke-width="0.7"/>
<line x1="452.51" y1="61.20" x2="452.51" y2="63.40" stroke="#000" stroke-width="0.7"/>
<line x1="458.17" y1="61.20" x2="458.17" y2="63.40" stroke="#000" stroke-width="0.7"/>
<line x1="463.84" y1="61.20" x2="463.84" y2="63.40" stroke="#000" stroke-width="0.7"/>
<line x1="469.50" y1="61.20" x2="469.50" y2="63.40" stroke="#000" stroke-width="0.7"/>
<line x1="475.16" y1="61.20" x2="475.16" y2="63.40" stroke="#000" stroke-width="0.7"/>
<line x1="480.82" y1="61.20" x2="480.82" y2="63.40" stroke="#000" stroke-width="0.7"/>
<line x1="486.49" y1="61.20" x2="486.49" y2="63.40" stroke="#000" stroke-width="0.7"/>
<line x1="492.15" y1="61.20" x2="492.15" y2="63.40" stroke="#000" stroke-width="0.7"/>
<line x1="497.81" y1="61.20" x2="497.81" y2="63.40" stroke="#000" stroke-width="0.7"/>
<line x1="503.47" y1="61.20" x2="503.47" y2="63.40" stroke="#000" stroke-width="0.7"/>
<line x1="509.14" y1="61.20" x2="509.14" y2="63.40" stroke="#000" stroke-width="0.7"/>
<line x1="514.80" y1="61.20" x2="514.80" y2="63.40" stroke="#000" stroke-width="0.7"/>
<text class="s" x="422.35" y="70.50" font-size="6.8" textLength="3.70" lengthAdjust="spacingAndGlyphs" stroke="#000" stroke-width="0.3">0</text>
<text class="s" x="431.82" y="70.50" font-size="6.8" textLength="7.40" lengthAdjust="spacingAndGlyphs" stroke="#000" stroke-width="0.3">10</text>
<text class="s" x="443.15" y="70.50" font-size="6.8" textLength="7.40" lengthAdjust="spacingAndGlyphs" stroke="#000" stroke-width="0.3">20</text>
<text class="s" x="454.47" y="70.50" font-size="6.8" textLength="7.40" lengthAdjust="spacingAndGlyphs" stroke="#000" stroke-width="0.3">30</text>
<text class="s" x="465.80" y="70.50" font-size="6.8" textLength="7.40" lengthAdjust="spacingAndGlyphs" stroke="#000" stroke-width="0.3">40</text>
<text class="s" x="477.12" y="70.50" font-size="6.8" textLength="7.40" lengthAdjust="spacingAndGlyphs" stroke="#000" stroke-width="0.3">50</text>
<text class="s" x="488.45" y="70.50" font-size="6.8" textLength="7.40" lengthAdjust="spacingAndGlyphs" stroke="#000" stroke-width="0.3">60</text>
<text class="s" x="499.77" y="70.50" font-size="6.8" textLength="7.40" lengthAdjust="spacingAndGlyphs" stroke="#000" stroke-width="0.3">70</text>
<text class="s" x="511.10" y="70.50" font-size="6.8" textLength="7.40" lengthAdjust="spacingAndGlyphs" stroke="#000" stroke-width="0.3">80</text>
<text class="s" x="451.55" y="16.80" font-size="5.8" textLength="28.30" lengthAdjust="spacingAndGlyphs" stroke="#000" stroke-width="0.22">HEALTHY</text>
<text class="s" x="453.50" y="22.90" font-size="5.8" textLength="24.40" lengthAdjust="spacingAndGlyphs" stroke="#000" stroke-width="0.22">DONOR 1</text>
<rect x="320.20" y="95.80" width="15.30" height="3.40" fill="#fff" stroke="#1a1a1a" stroke-width="0.85"/>
<rect x="320.20" y="104.40" width="7.30" height="3.40" fill="#808080" stroke="#333" stroke-width="0.6"/>
<rect x="320.20" y="112.30" width="13.40" height="3.40" fill="#808080" stroke="#333" stroke-width="0.6"/>
<rect x="320.20" y="119.10" width="7.30" height="3.40" fill="#808080" stroke="#333" stroke-width="0.6"/>
<line x1="320.20" y1="92.60" x2="320.20" y2="132.90" stroke="#000" stroke-width="0.85"/>
<line x1="319.77" y1="131.00" x2="411.00" y2="131.00" stroke="#000" stroke-width="0.85"/>
<line x1="320.20" y1="131.00" x2="320.20" y2="133.20" stroke="#000" stroke-width="0.7"/>
<line x1="325.85" y1="131.00" x2="325.85" y2="133.20" stroke="#000" stroke-width="0.7"/>
<line x1="331.50" y1="131.00" x2="331.50" y2="133.20" stroke="#000" stroke-width="0.7"/>
<line x1="337.15" y1="131.00" x2="337.15" y2="133.20" stroke="#000" stroke-width="0.7"/>
<line x1="342.80" y1="131.00" x2="342.80" y2="133.20" stroke="#000" stroke-width="0.7"/>
<line x1="348.45" y1="131.00" x2="348.45" y2="133.20" stroke="#000" stroke-width="0.7"/>
<line x1="354.10" y1="131.00" x2="354.10" y2="133.20" stroke="#000" stroke-width="0.7"/>
<line x1="359.75" y1="131.00" x2="359.75" y2="133.20" stroke="#000" stroke-width="0.7"/>
<line x1="365.40" y1="131.00" x2="365.40" y2="133.20" stroke="#000" stroke-width="0.7"/>
<line x1="371.05" y1="131.00" x2="371.05" y2="133.20" stroke="#000" stroke-width="0.7"/>
<line x1="376.70" y1="131.00" x2="376.70" y2="133.20" stroke="#000" stroke-width="0.7"/>
<line x1="382.35" y1="131.00" x2="382.35" y2="133.20" stroke="#000" stroke-width="0.7"/>
<line x1="388.00" y1="131.00" x2="388.00" y2="133.20" stroke="#000" stroke-width="0.7"/>
<line x1="393.65" y1="131.00" x2="393.65" y2="133.20" stroke="#000" stroke-width="0.7"/>
<line x1="399.30" y1="131.00" x2="399.30" y2="133.20" stroke="#000" stroke-width="0.7"/>
<line x1="404.95" y1="131.00" x2="404.95" y2="133.20" stroke="#000" stroke-width="0.7"/>
<line x1="410.60" y1="131.00" x2="410.60" y2="133.20" stroke="#000" stroke-width="0.7"/>
<text class="s" x="318.35" y="140.00" font-size="6.8" textLength="3.70" lengthAdjust="spacingAndGlyphs" stroke="#000" stroke-width="0.3">0</text>
<text class="s" x="327.80" y="140.00" font-size="6.8" textLength="7.40" lengthAdjust="spacingAndGlyphs" stroke="#000" stroke-width="0.3">10</text>
<text class="s" x="339.10" y="140.00" font-size="6.8" textLength="7.40" lengthAdjust="spacingAndGlyphs" stroke="#000" stroke-width="0.3">20</text>
<text class="s" x="350.40" y="140.00" font-size="6.8" textLength="7.40" lengthAdjust="spacingAndGlyphs" stroke="#000" stroke-width="0.3">30</text>
<text class="s" x="361.70" y="140.00" font-size="6.8" textLength="7.40" lengthAdjust="spacingAndGlyphs" stroke="#000" stroke-width="0.3">40</text>
<text class="s" x="373.00" y="140.00" font-size="6.8" textLength="7.40" lengthAdjust="spacingAndGlyphs" stroke="#000" stroke-width="0.3">50</text>
<text class="s" x="384.30" y="140.00" font-size="6.8" textLength="7.40" lengthAdjust="spacingAndGlyphs" stroke="#000" stroke-width="0.3">60</text>
<text class="s" x="395.60" y="140.00" font-size="6.8" textLength="7.40" lengthAdjust="spacingAndGlyphs" stroke="#000" stroke-width="0.3">70</text>
<text class="s" x="406.90" y="140.00" font-size="6.8" textLength="7.40" lengthAdjust="spacingAndGlyphs" stroke="#000" stroke-width="0.3">80</text>
<text class="s" x="293.10" y="99.50" font-size="7.2" textLength="25.40" lengthAdjust="spacingAndGlyphs" stroke="#000" stroke-width="0.3">no mAb</text>
<text class="s" x="296.20" y="108.30" font-size="7.2" textLength="22.30" lengthAdjust="spacingAndGlyphs" stroke="#000" stroke-width="0.3">NKp46</text>
<text class="s" x="298.90" y="116.00" font-size="7.2" textLength="19.60" lengthAdjust="spacingAndGlyphs" stroke="#000" stroke-width="0.3">LFA-1</text>
<text class="s" x="271.70" y="123.10" font-size="7.2" textLength="46.80" lengthAdjust="spacingAndGlyphs" stroke="#000" stroke-width="0.3">NKp46+LFA-1</text>
<text class="s" x="343.50" y="83.00" font-size="6.4" textLength="15.00" lengthAdjust="spacingAndGlyphs" stroke="#000" stroke-width="0.22">LAD1</text>
<text class="s" x="333.55" y="89.60" font-size="6.4" textLength="34.90" lengthAdjust="spacingAndGlyphs" stroke="#000" stroke-width="0.22">PATIENT 2</text>
<rect x="424.60" y="96.10" width="66.70" height="3.40" fill="#fff" stroke="#1a1a1a" stroke-width="0.85"/>
<rect x="424.60" y="104.10" width="17.50" height="3.40" fill="#808080" stroke="#333" stroke-width="0.6"/>
<rect x="424.60" y="112.10" width="11.50" height="3.40" fill="#808080" stroke="#333" stroke-width="0.6"/>
<rect x="424.60" y="119.10" width="7.80" height="3.40" fill="#808080" stroke="#333" stroke-width="0.6"/>
<line x1="424.60" y1="92.00" x2="424.60" y2="132.90" stroke="#000" stroke-width="0.85"/>
<line x1="424.18" y1="131.00" x2="515.20" y2="131.00" stroke="#000" stroke-width="0.85"/>
<line x1="424.60" y1="131.00" x2="424.60" y2="133.20" stroke="#000" stroke-width="0.7"/>
<line x1="430.24" y1="131.00" x2="430.24" y2="133.20" stroke="#000" stroke-width="0.7"/>
<line x1="435.88" y1="131.00" x2="435.88" y2="133.20" stroke="#000" stroke-width="0.7"/>
<line x1="441.51" y1="131.00" x2="441.51" y2="133.20" stroke="#000" stroke-width="0.7"/>
<line x1="447.15" y1="131.00" x2="447.15" y2="133.20" stroke="#000" stroke-width="0.7"/>
<line x1="452.79" y1="131.00" x2="452.79" y2="133.20" stroke="#000" stroke-width="0.7"/>
<line x1="458.43" y1="131.00" x2="458.43" y2="133.20" stroke="#000" stroke-width="0.7"/>
<line x1="464.06" y1="131.00" x2="464.06" y2="133.20" stroke="#000" stroke-width="0.7"/>
<line x1="469.70" y1="131.00" x2="469.70" y2="133.20" stroke="#000" stroke-width="0.7"/>
<line x1="475.34" y1="131.00" x2="475.34" y2="133.20" stroke="#000" stroke-width="0.7"/>
<line x1="480.97" y1="131.00" x2="480.97" y2="133.20" stroke="#000" stroke-width="0.7"/>
<line x1="486.61" y1="131.00" x2="486.61" y2="133.20" stroke="#000" stroke-width="0.7"/>
<line x1="492.25" y1="131.00" x2="492.25" y2="133.20" stroke="#000" stroke-width="0.7"/>
<line x1="497.89" y1="131.00" x2="497.89" y2="133.20" stroke="#000" stroke-width="0.7"/>
<line x1="503.52" y1="131.00" x2="503.52" y2="133.20" stroke="#000" stroke-width="0.7"/>
<line x1="509.16" y1="131.00" x2="509.16" y2="133.20" stroke="#000" stroke-width="0.7"/>
<line x1="514.80" y1="131.00" x2="514.80" y2="133.20" stroke="#000" stroke-width="0.7"/>
<text class="s" x="422.75" y="140.00" font-size="6.8" textLength="3.70" lengthAdjust="spacingAndGlyphs" stroke="#000" stroke-width="0.3">0</text>
<text class="s" x="432.18" y="140.00" font-size="6.8" textLength="7.40" lengthAdjust="spacingAndGlyphs" stroke="#000" stroke-width="0.3">10</text>
<text class="s" x="443.45" y="140.00" font-size="6.8" textLength="7.40" lengthAdjust="spacingAndGlyphs" stroke="#000" stroke-width="0.3">20</text>
<text class="s" x="454.73" y="140.00" font-size="6.8" textLength="7.40" lengthAdjust="spacingAndGlyphs" stroke="#000" stroke-width="0.3">30</text>
<text class="s" x="466.00" y="140.00" font-size="6.8" textLength="7.40" lengthAdjust="spacingAndGlyphs" stroke="#000" stroke-width="0.3">40</text>
<text class="s" x="477.27" y="140.00" font-size="6.8" textLength="7.40" lengthAdjust="spacingAndGlyphs" stroke="#000" stroke-width="0.3">50</text>
<text class="s" x="488.55" y="140.00" font-size="6.8" textLength="7.40" lengthAdjust="spacingAndGlyphs" stroke="#000" stroke-width="0.3">60</text>
<text class="s" x="499.82" y="140.00" font-size="6.8" textLength="7.40" lengthAdjust="spacingAndGlyphs" stroke="#000" stroke-width="0.3">70</text>
<text class="s" x="511.10" y="140.00" font-size="6.8" textLength="7.40" lengthAdjust="spacingAndGlyphs" stroke="#000" stroke-width="0.3">80</text>
<text class="s" x="452.65" y="84.20" font-size="5.8" textLength="28.10" lengthAdjust="spacingAndGlyphs" stroke="#000" stroke-width="0.22">HEALTHY</text>
<text class="s" x="454.50" y="90.20" font-size="5.8" textLength="24.40" lengthAdjust="spacingAndGlyphs" stroke="#000" stroke-width="0.22">DONOR 3</text>
<text class="s" x="367.60" y="154.80" font-size="7.3" textLength="81.4" lengthAdjust="spacing" stroke="#000" stroke-width="0.2">% specific <tspan dy="-1.68" font-size="7.15">51</tspan><tspan dy="1.68">Cr release</tspan></text>
<text class="a" x="270.00" y="174.30" font-size="11.5">D</text>
<text class="s" x="358.40" y="181.40" font-size="11.8" textLength="25.00" lengthAdjust="spacingAndGlyphs">P815</text>
<rect x="357.30" y="193.55" width="34.15" height="6.90" fill="#fff" stroke="#000" stroke-width="0.75"/>
<rect x="357.30" y="205.35" width="16.60" height="7.30" fill="#000"/>
<rect x="357.30" y="217.45" width="5.60" height="7.30" fill="#000"/>
<rect x="357.30" y="229.55" width="67.80" height="7.30" fill="#000"/>
<rect x="357.30" y="241.55" width="29.90" height="7.30" fill="#000"/>
<rect x="357.30" y="253.25" width="66.80" height="7.30" fill="#000"/>
<rect x="357.30" y="265.05" width="32.20" height="7.30" fill="#000"/>
<line x1="357.30" y1="186.80" x2="357.30" y2="283.40" stroke="#000" stroke-width="0.9"/>
<line x1="356.85" y1="281.50" x2="433.10" y2="281.50" stroke="#000" stroke-width="0.9"/>
<line x1="357.30" y1="281.50" x2="357.30" y2="283.70" stroke="#000" stroke-width="0.7"/>
<line x1="362.69" y1="281.50" x2="362.69" y2="283.70" stroke="#000" stroke-width="0.7"/>
<line x1="368.07" y1="281.50" x2="368.07" y2="283.70" stroke="#000" stroke-width="0.7"/>
<line x1="373.46" y1="281.50" x2="373.46" y2="283.70" stroke="#000" stroke-width="0.7"/>
<line x1="378.84" y1="281.50" x2="378.84" y2="283.70" stroke="#000" stroke-width="0.7"/>
<line x1="384.23" y1="281.50" x2="384.23" y2="283.70" stroke="#000" stroke-width="0.7"/>
<line x1="389.61" y1="281.50" x2="389.61" y2="283.70" stroke="#000" stroke-width="0.7"/>
<line x1="395.00" y1="281.50" x2="395.00" y2="283.70" stroke="#000" stroke-width="0.7"/>
<line x1="400.39" y1="281.50" x2="400.39" y2="283.70" stroke="#000" stroke-width="0.7"/>
<line x1="405.77" y1="281.50" x2="405.77" y2="283.70" stroke="#000" stroke-width="0.7"/>
<line x1="411.16" y1="281.50" x2="411.16" y2="283.70" stroke="#000" stroke-width="0.7"/>
<line x1="416.54" y1="281.50" x2="416.54" y2="283.70" stroke="#000" stroke-width="0.7"/>
<line x1="421.93" y1="281.50" x2="421.93" y2="283.70" stroke="#000" stroke-width="0.7"/>
<line x1="427.31" y1="281.50" x2="427.31" y2="283.70" stroke="#000" stroke-width="0.7"/>
<line x1="432.70" y1="281.50" x2="432.70" y2="283.70" stroke="#000" stroke-width="0.7"/>
<text class="s" x="355.65" y="290.30" font-size="7.0" textLength="3.30" lengthAdjust="spacingAndGlyphs" stroke="#000" stroke-width="0.3">0</text>
<text class="s" x="364.77" y="290.30" font-size="7.0" textLength="6.60" lengthAdjust="spacingAndGlyphs" stroke="#000" stroke-width="0.3">10</text>
<text class="s" x="375.54" y="290.30" font-size="7.0" textLength="6.60" lengthAdjust="spacingAndGlyphs" stroke="#000" stroke-width="0.3">20</text>
<text class="s" x="386.31" y="290.30" font-size="7.0" textLength="6.60" lengthAdjust="spacingAndGlyphs" stroke="#000" stroke-width="0.3">30</text>
<text class="s" x="397.09" y="290.30" font-size="7.0" textLength="6.60" lengthAdjust="spacingAndGlyphs" stroke="#000" stroke-width="0.3">40</text>
<text class="s" x="407.86" y="290.30" font-size="7.0" textLength="6.60" lengthAdjust="spacingAndGlyphs" stroke="#000" stroke-width="0.3">50</text>
<text class="s" x="418.63" y="290.30" font-size="7.0" textLength="6.60" lengthAdjust="spacingAndGlyphs" stroke="#000" stroke-width="0.3">60</text>
<text class="s" x="429.40" y="290.30" font-size="7.0" textLength="6.60" lengthAdjust="spacingAndGlyphs" stroke="#000" stroke-width="0.3">70</text>
<text class="s" x="330.30" y="199.10" font-size="6.5" textLength="22.50" lengthAdjust="spacingAndGlyphs" stroke="#000" stroke-width="0.22">no mAb</text>
<text class="s" x="317.20" y="211.10" font-size="6.5" textLength="35.60" lengthAdjust="spacingAndGlyphs" stroke="#000" stroke-width="0.22">LFA-1(IgM)</text>
<text class="s" x="314.70" y="223.20" font-size="6.5" textLength="38.10" lengthAdjust="spacingAndGlyphs" stroke="#000" stroke-width="0.22">NKp46 (IgM)</text>
<text class="s" x="316.50" y="235.30" font-size="6.5" textLength="36.30" lengthAdjust="spacingAndGlyphs" stroke="#000" stroke-width="0.22">CD16 (IgG1)</text>
<text class="s" x="276.30" y="247.30" font-size="6.5" textLength="76.50" lengthAdjust="spacingAndGlyphs" stroke="#000" stroke-width="0.22">CD16 (IgG1)+LFA-1(IgM)</text>
<text class="s" x="312.00" y="259.00" font-size="6.5" textLength="40.80" lengthAdjust="spacingAndGlyphs" stroke="#000" stroke-width="0.22">NKp46 (IgG1)</text>
<text class="s" x="270.50" y="270.80" font-size="6.5" textLength="82.30" lengthAdjust="spacingAndGlyphs" stroke="#000" stroke-width="0.22">NKp46 (IgG1)+LFA-1 (IgM)</text>
<text class="s" x="354.50" y="304.60" font-size="7.3" textLength="80.8" lengthAdjust="spacing" stroke="#000" stroke-width="0.2">% specific <tspan dy="-1.68" font-size="7.15">51</tspan><tspan dy="1.68">Cr release</tspan></text>
<text class="s" font-size="6" x="-16.3" y="0" textLength="32.6" lengthAdjust="spacingAndGlyphs" transform="translate(441.0,229) rotate(-90)" stroke="#000" stroke-width="0.2">HEALTHY</text>
<text class="s" font-size="6" x="-13.8" y="0" textLength="27.6" lengthAdjust="spacingAndGlyphs" transform="translate(448.1,229) rotate(-90)" stroke="#000" stroke-width="0.2">DONOR 1</text>
</svg>
</body></html>
